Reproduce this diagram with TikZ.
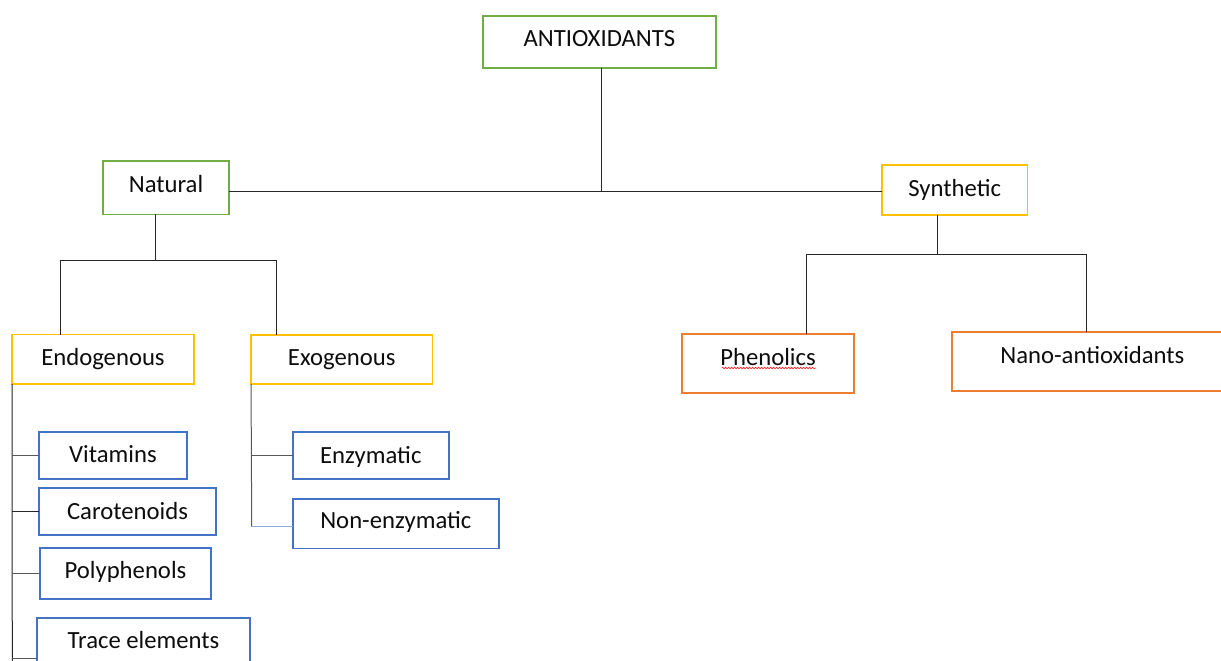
\documentclass[tikz,border=0pt]{standalone}
\usepackage{fontspec}
\setmainfont{Carlito}
\usetikzlibrary{calc,decorations.pathmorphing}
\definecolor{cgreen}{HTML}{70AD47}
\definecolor{cyellow}{HTML}{FFC000}
\definecolor{corange}{HTML}{ED7D31}
\definecolor{cblue}{HTML}{4472C4}
\definecolor{cline}{HTML}{262626}
\definecolor{cgrayline}{HTML}{595959}
\definecolor{ctext}{HTML}{0D0D0D}
\tikzset{
  bx/.style={draw, rectangle, line width=1.7pt, inner sep=0pt, outer sep=0pt,
    text height=20pt, text depth=4.2pt, align=center, text=ctext,
    font=\fontsize{24.7}{29}\selectfont, fill=white},
  gbx/.style={bx, draw=cgreen},
  ybx/.style={bx, draw=cyellow},
  obx/.style={bx, draw=corange},
  bbx/.style={bx, draw=cblue},
  conn/.style={draw=cline, line width=1pt},
  gconn/.style={draw=cgrayline, line width=1pt},
}
\newcommand{\rz}[2]{\raisebox{#1pt}{#2}}
\begin{document}
\begin{tikzpicture}[x=1pt,y=-1pt]
\useasboundingbox[fill=white] (0,0) rectangle (1221,661);
\clip (0,0) rectangle (1221,661);

% connector junctions
\coordinate (ja) at (601.7,191);
\coordinate (jn) at (155.3,260.5);
\coordinate (jnl) at (60.7,260.5);
\coordinate (jnr) at (276.7,260.5);
\coordinate (js) at (937.3,254.3);
\coordinate (jsl) at (806,254.3);
\coordinate (jsr) at (1086,254.3);
\coordinate (eb) at (12.3,668);
\coordinate (et) at (12.3,658);
\coordinate (xb) at (251.7,526.7);

% boxes
\node[gbx, minimum width=233.3, minimum height=51.7] (anti) at (599.35,41.85) {\rz{3}{ANTIOXIDANTS}};
\node[gbx, minimum width=126.6, minimum height=53.3] (natural) at (166,187.7) {\rz{3}{Natural}};
\node[ybx, minimum width=145.3, minimum height=50] (synthetic) at (954.7,190) {\rz{1}{Synthetic}};
\node[ybx, minimum width=182, minimum height=49.3] (endo) at (103,359.2) {\rz{2}{Endogenous}};
\node[ybx, minimum width=181.3, minimum height=49.3] (exo) at (341.7,359.3) {\rz{2}{Exogenous}};
\node[obx, minimum width=172, minimum height=59.3] (phen) at (768,363.4) {\rz{5.5}{Phenolics}};
\node[obx, minimum width=281.4, minimum height=59] (nano) at (1092.4,361.2) {\rz{5.5}{Nano-antioxidants}};
\node[bbx, minimum width=148, minimum height=47.3] (vit) at (113,455.5) {\rz{1.3}{Vitamins}};
\node[bbx, minimum width=177, minimum height=47] (car) at (127.5,511.5) {Carotenoids};
\node[bbx, minimum width=171, minimum height=51.3] (poly) at (125.5,573.5) {\rz{2.7}{Polyphenols}};
\node[bbx, minimum width=213, minimum height=49] (trace) at (143.5,642.5) {\rz{2}{Trace elements}};
\node[bbx, minimum width=156.3, minimum height=47.3] (enz) at (370.8,455.3) {Enzymatic};
\node[bbx, minimum width=206.3, minimum height=49.3] (nonenz) at (395.8,523.7) {\rz{3}{Non-enzymatic}};

% spell-check squiggle under Phenolics
\draw[red!85!white, line width=0.6pt, decorate, decoration={snake, amplitude=0.8pt, segment length=3pt}]
  ($(phen.center)+(-46.3,4.6)$) -- ($(phen.center)+(47.7,4.6)$);

% connectors
\draw[conn] (anti.south -| ja) -- (ja);
\draw[conn] (natural.east |- ja) -- (synthetic.west |- ja);
\draw[conn] (natural.south -| jn) -- (jn);
\draw[conn] (endo.north -| jnl) -- (jnl) -- (jnr) -- (exo.north -| jnr);
\draw[conn] (synthetic.south -| js) -- (js);
\draw[conn] (phen.north -| jsl) -- (jsl) -- (jsr) -- (nano.north -| jsr);
\draw[conn] (endo.south west) -- (eb);
\draw[gconn] (vit.west -| eb) -- (vit.west);
\draw[conn] (car.west -| eb) -- (car.west);
\draw[gconn] (poly.west -| eb) -- (poly.west);
\draw[gconn] (et) -- (trace.west |- et);
\draw[gconn] (exo.south west) -- (xb);
\draw[gconn] (enz.west -| xb) -- (enz.west);
\draw[draw=cblue!60!white, line width=1pt] (xb) -- (nonenz.west |- xb);
\end{tikzpicture}
\end{document}
